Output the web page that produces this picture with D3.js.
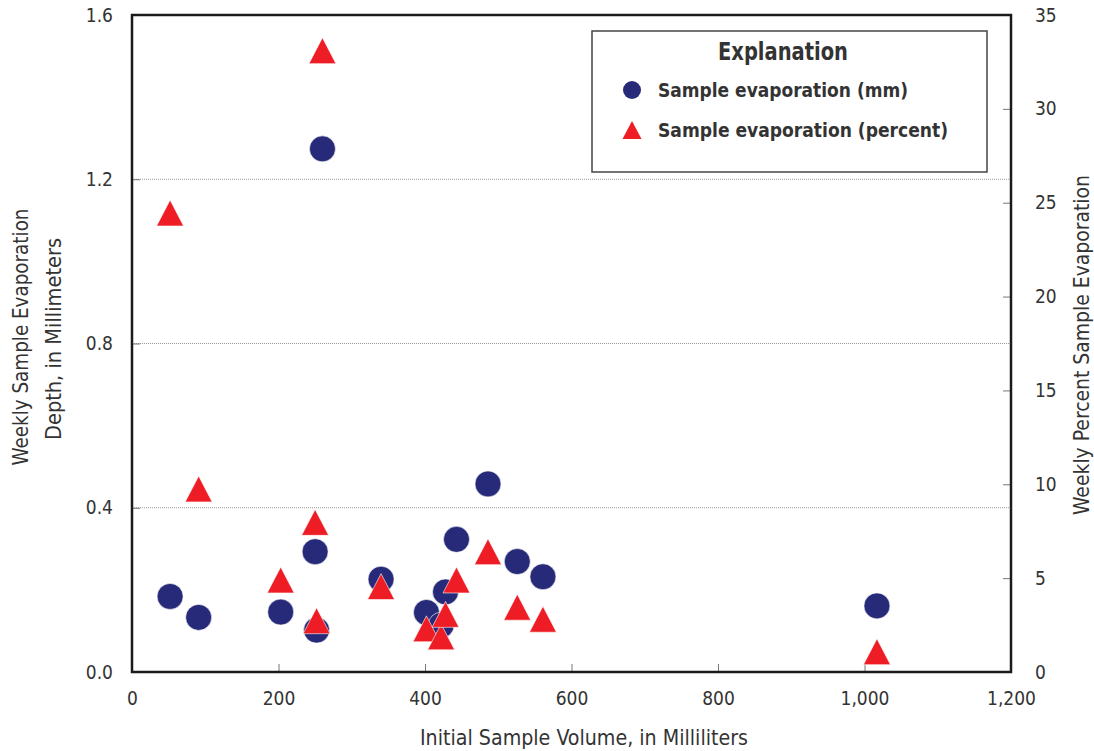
<!DOCTYPE html>
<html>
<head>
<meta charset="utf-8">
<script src="https://cdn.jsdelivr.net/npm/d3@7"></script>
<style>
  body { margin: 0; background: #fff; }
  svg text { font-family: "Liberation Sans Narrow", "DejaVu Sans Condensed", "Arial Narrow", sans-serif; fill: #333; }
</style>
</head>
<body>
<div id="chart"></div>
<script>
// initial sample volume (mL) for each weekly sample
var volumes = [52, 91, 203, 250, 252, 260, 340, 402, 422, 428, 443, 486, 526, 561, 1017];
// weekly evaporation depth, mm (left axis)
var evapMm = [0.184, 0.133, 0.146, 0.293, 0.102, 1.274, 0.226, 0.145, 0.114, 0.195, 0.323, 0.458, 0.269, 0.232, 0.161];
// weekly evaporation, percent of sample (right axis)
var evapPct = [24.45, 9.75, 4.9, 7.97, 2.73, 33.1, 4.55, 2.3, 1.87, 3.07, 4.9, 6.41, 3.45, 2.81, 1.08];

var xTicks = [0, 200, 400, 600, 800, 1000, 1200];
var yLeftTicks = [0, 0.4, 0.8, 1.2, 1.6];
var yRightTicks = [0, 5, 10, 15, 20, 25, 30, 35];
var gridTicks = [0.4, 0.8, 1.2];

var legendItems = ["Sample evaporation (mm)", "Sample evaporation (percent)"];

var navy = "#272a78", red = "#ee1c24";

var chartSize = { width: 1094, height: 751, margin: { left: 132, right: 83, top: 15, bottom: 79 } };
var w = chartSize.width - chartSize.margin.left - chartSize.margin.right,
    h = chartSize.height - chartSize.margin.top - chartSize.margin.bottom;

var xScale = d3.scaleLinear().domain([0, 1200]).range([0, w]);
var yLeft = d3.scaleLinear().domain([0, 1.6]).range([h, 0]);
var yRight = d3.scaleLinear().domain([0, 35]).range([h, 0]);

var svg = d3.select("#chart").append("svg")
        .attr("width", chartSize.width)
        .attr("height", chartSize.height);

var g = svg.append("g")
        .attr("transform", "translate(" + chartSize.margin.left + "," + chartSize.margin.top + ")");

// gridlines
g.selectAll("line.grid")
    .data(gridTicks)
    .enter().append("line")
    .attr("class", "grid")
    .attr("x1", 0).attr("x2", w)
    .attr("y1", function (d) { return yLeft(d); })
    .attr("y2", function (d) { return yLeft(d); })
    .attr("stroke", "#999")
    .attr("stroke-width", 1)
    .attr("stroke-dasharray", "1,1");

// axes, ticks pointing inward
function styleAxis(sel) {
    sel.select(".domain").remove();
    sel.selectAll(".tick line").attr("stroke", "#777").attr("stroke-width", 1);
    sel.selectAll(".tick text").style("font-size", "19px").attr("fill", "#333");
}

var xAxis = d3.axisBottom(xScale)
        .tickValues(xTicks)
        .tickSize(-8)
        .tickPadding(28)
        .tickFormat(d3.format(","));

g.append("g")
    .attr("transform", "translate(0," + h + ")")
    .call(xAxis)
    .call(styleAxis)
    .selectAll(".tick text").attr("dy", "0.25em");

var yAxisL = d3.axisLeft(yLeft)
        .tickValues(yLeftTicks)
        .tickSize(-8)
        .tickPadding(19)
        .tickFormat(d3.format(".1f"));

g.append("g")
    .call(yAxisL)
    .call(styleAxis);

var yAxisR = d3.axisRight(yRight)
        .tickValues(yRightTicks)
        .tickSize(-8)
        .tickPadding(24);

g.append("g")
    .attr("transform", "translate(" + w + ",0)")
    .call(yAxisR)
    .call(styleAxis);

// plot frame
g.append("rect")
    .attr("x", 0).attr("y", 0)
    .attr("width", w).attr("height", h)
    .attr("fill", "none")
    .attr("stroke", "#1a1a1a")
    .attr("stroke-width", 2.5);

// triangle centred on its bounding box
function triPath(s) {
    var hw = s / 2, hh = s * 0.48;
    return "M0," + (-hh) + "L" + hw + "," + hh + "L" + (-hw) + "," + hh + "Z";
}

// circles (mm)
g.selectAll("circle.mm")
    .data(volumes)
    .enter().append("circle")
    .attr("class", "mm")
    .attr("cx", function (d) { return xScale(d); })
    .attr("cy", function (d, i) { return yLeft(evapMm[i]); })
    .attr("r", 13)
    .attr("fill", navy)
    .attr("stroke", "#fff")
    .attr("stroke-width", 0.6);

// triangles (percent)
g.selectAll("path.pct")
    .data(volumes)
    .enter().append("path")
    .attr("class", "pct")
    .attr("transform", function (d, i) { return "translate(" + xScale(d) + "," + yRight(evapPct[i]) + ")"; })
    .attr("d", triPath(27))
    .attr("fill", red)
    .attr("stroke", "#fff")
    .attr("stroke-width", 0.6);

// legend
var legend = svg.append("g").attr("transform", "translate(592,31)");

legend.append("rect")
    .attr("width", 395).attr("height", 141)
    .attr("fill", "#fff")
    .attr("stroke", "#444")
    .attr("stroke-width", 1.5);

legend.append("text")
    .attr("x", 191).attr("y", 29)
    .attr("text-anchor", "middle")
    .attr("textLength", 130)
    .attr("lengthAdjust", "spacingAndGlyphs")
    .style("font-size", "24px")
    .style("font-weight", "bold")
    .text("Explanation");

var legendWidths = [250, 290];

var rows = legend.selectAll("g.row")
    .data(legendItems)
    .enter().append("g")
    .attr("class", "row")
    .attr("transform", function (d, i) { return "translate(0," + (59 + i * 40) + ")"; });

rows.append("text")
    .attr("x", 66).attr("y", 7)
    .attr("textLength", function (d, i) { return legendWidths[i]; })
    .attr("lengthAdjust", "spacingAndGlyphs")
    .style("font-size", "20px")
    .style("font-weight", "bold")
    .text(function (d) { return d; });

rows.filter(function (d, i) { return i === 0; })
    .append("circle")
    .attr("cx", 40).attr("cy", 0).attr("r", 9)
    .attr("fill", navy);

rows.filter(function (d, i) { return i === 1; })
    .append("path")
    .attr("transform", "translate(40,0)")
    .attr("d", triPath(19))
    .attr("fill", red);

// axis titles, squeezed to the condensed widths of the original
function title(txt, tf, len) {
    svg.append("text")
        .attr("transform", tf)
        .attr("text-anchor", "middle")
        .attr("textLength", len)
        .attr("lengthAdjust", "spacingAndGlyphs")
        .style("font-size", "22px")
        .text(txt);
}

title("Initial Sample Volume, in Milliliters", "translate(584,745)", 328);
title("Weekly Sample Evaporation", "translate(28,337) rotate(-90)", 257);
title("Depth, in Millimeters", "translate(61,339) rotate(-90)", 202);
title("Weekly Percent Sample Evaporation", "translate(1089,345) rotate(-90)", 340);
</script>
</body>
</html>
